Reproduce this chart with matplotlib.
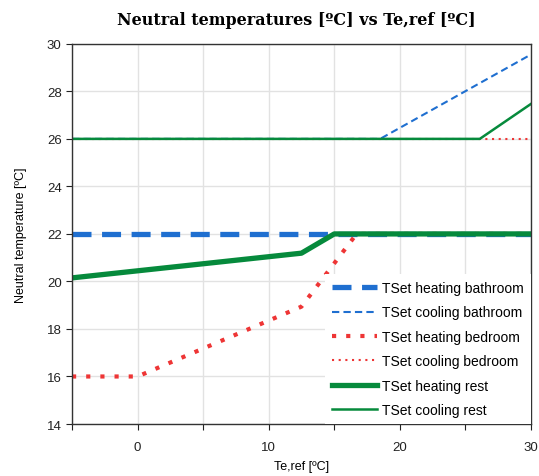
import matplotlib
matplotlib.use("Agg")
import matplotlib.pyplot as plt
from matplotlib.ticker import MultipleLocator

# series (x = Te,ref, y = neutral temperature)
heat_bath_x = [-5, 30]
heat_bath_y = [22, 22]
cool_bath_x = [-5, 18.5, 30]
cool_bath_y = [26, 26, 29.55]
heat_bed_x = [-5, 0, 12.5, 16.7, 30]
heat_bed_y = [16, 16, 18.94, 22, 22]
cool_bed_x = [-5, 30]
cool_bed_y = [26, 26]
heat_rest_x = [-5, 12.5, 15.0, 30]
heat_rest_y = [20.15, 21.19, 22, 22]
cool_rest_x = [-5, 26.1, 30]
cool_rest_y = [26, 26, 27.47]

BLUE = "#1f6fd0"
RED = "#ee3535"
GREEN = "#068a3c"

plt.rcParams["font.family"] = ["Liberation Sans", "DejaVu Sans"]

fig = plt.figure(figsize=(5.39, 4.77), dpi=100)
ax = fig.add_axes([0.1336, 0.109, 0.8514, 0.797])

ax.plot(heat_bath_x, heat_bath_y, color=BLUE, lw=3.8, dashes=(3.6, 2.0),
        solid_capstyle="butt", dash_capstyle="butt", label="TSet heating bathroom")
ax.plot(cool_bath_x, cool_bath_y, color=BLUE, lw=1.5, dashes=(3.5, 2.0),
        dash_capstyle="butt", label="TSet cooling bathroom")
ax.plot(heat_bed_x, heat_bed_y, color=RED, lw=3.0, dashes=(1.0, 2.4),
        dash_capstyle="butt", label="TSet heating bedroom")
ax.plot(cool_bed_x, cool_bed_y, color=RED, lw=1.5, dashes=(1.0, 2.2),
        dash_capstyle="butt", label="TSet cooling bedroom")
ax.plot(heat_rest_x, heat_rest_y, color=GREEN, lw=3.8, label="TSet heating rest")
ax.plot(cool_rest_x, cool_rest_y, color=GREEN, lw=1.8, label="TSet cooling rest")

ax.set_xlim(-5, 30)
ax.set_ylim(14, 30)
ax.set_xticks([0, 10, 20, 30])
ax.xaxis.set_minor_locator(MultipleLocator(5))
ax.set_yticks(range(14, 31, 2))
ax.grid(True, which="both", color="#e2e2e2", lw=1.0)
ax.set_axisbelow(True)
ax.tick_params(which="both", direction="out", length=4, width=0.8,
               labelsize=9.5, colors="#222222")
ax.tick_params(axis="x", pad=8)
for s in ax.spines.values():
    s.set_linewidth(1.0)
    s.set_color("#333333")

ax.set_xlabel("Te,ref [ºC]", fontsize=9, labelpad=5)
ax.set_ylabel("Neutral temperature [ºC]", fontsize=9, labelpad=14)
fig.text(0.55, 0.958, "Neutral temperatures [ºC] vs Te,ref [ºC]",
         ha="center", va="center", fontsize=11.5, fontweight="bold",
         family=["DejaVu Serif"])

leg = ax.legend(loc="lower right", fontsize=10, frameon=True, fancybox=False,
                handlelength=3.3, handletextpad=0.35, labelspacing=0.75,
                borderaxespad=0.0, borderpad=0.5)
leg.get_frame().set_edgecolor("none")
leg.get_frame().set_facecolor("white")
leg.get_frame().set_alpha(1.0)

fig.savefig("out.png", dpi=100)
